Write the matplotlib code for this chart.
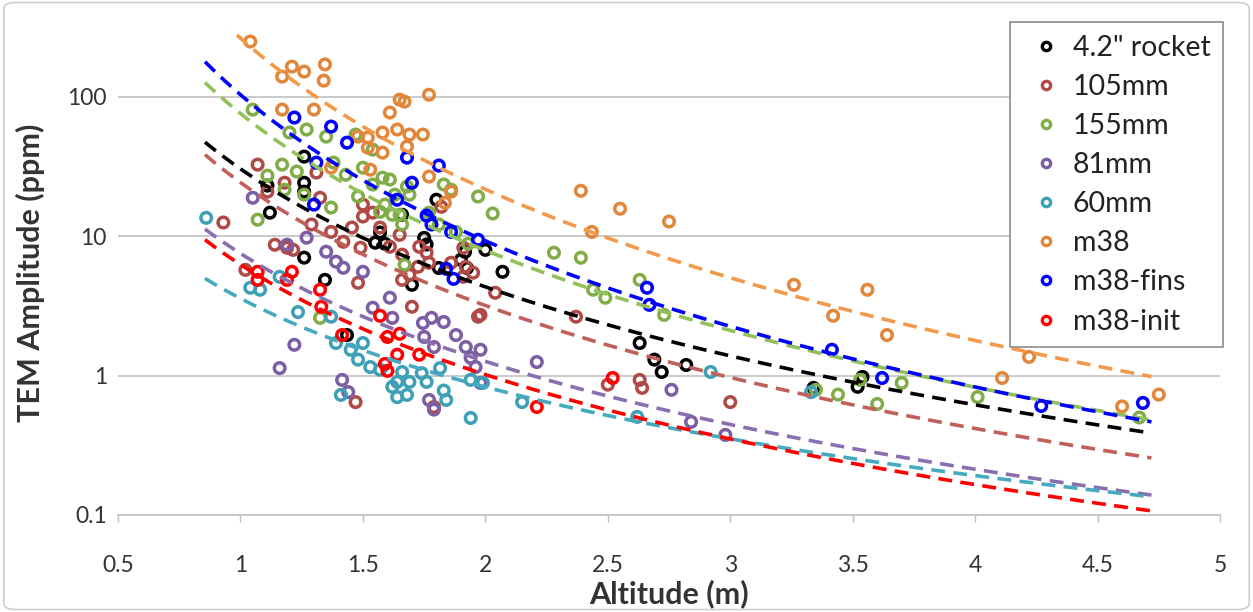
import matplotlib
matplotlib.use('Agg')
import matplotlib.pyplot as plt
import numpy as np
from matplotlib.patches import FancyBboxPatch
from matplotlib.lines import Line2D

plt.rcParams['font.family'] = ['Lato', 'DejaVu Sans']
plt.rcParams['lines.scale_dashes'] = False

# ---------------- data ----------------
series_names = ['4.2" rocket', '105mm', '155mm', '81mm', '60mm', 'm38', 'm38-fins', 'm38-init']
marker_colors = ['#000000', '#b04a46', '#80ad48', '#7b5ea3', '#3da0b6', '#e2863a', '#0000ff', '#ff0000']
line_colors = ['#000000', '#c0605b', '#92c05a', '#8a6fb0', '#45aac0', '#f39a4a', '#0000ff', '#ff0000']

rocket_x = [1.11, 1.12, 1.26, 1.26, 1.26, 1.26, 1.345, 1.435, 1.57, 1.55, 1.59, 1.66, 1.75, 1.76, 1.70, 1.80,
            1.90, 1.925, 1.81, 2.0, 1.917, 2.07, 2.63, 2.69, 2.72, 2.82, 3.34, 3.52, 3.54]
rocket_y = [23.0, 14.7, 24.1, 20.8, 37.1, 7.0, 4.85, 1.95, 10.6, 8.96, 8.8, 14.2, 9.7, 8.7, 4.47, 18.2,
            6.75, 5.9, 5.9, 7.96, 7.7, 5.54, 1.71, 1.30, 1.06, 1.19, 0.815, 0.83, 0.977]

mm105_x = [0.93, 1.07, 1.02, 1.11, 1.18, 1.14, 1.19, 1.215, 1.29, 1.325, 1.31, 1.37, 1.42, 1.455, 1.49, 1.50,
           1.54, 1.50, 1.57, 1.61, 1.65, 1.66, 1.66, 1.73, 1.76, 1.725, 1.77, 1.69, 1.86, 1.91, 1.95, 1.48,
           1.70, 1.97, 1.82, 1.92, 2.04, 1.98, 2.37, 2.50, 2.63, 2.64, 3.0, 1.47, 1.79, 1.91]
mm105_y = [12.5, 32.5, 5.72, 20.8, 24.1, 8.66, 8.24, 7.96, 12.1, 18.8, 28.5, 10.7, 9.1, 11.5, 8.24, 13.8,
           14.7, 16.8, 11.5, 8.38, 10.2, 7.35, 4.85, 8.38, 7.59, 6.02, 6.43, 5.27, 6.43, 5.10, 5.46, 4.62,
           3.11, 2.64, 16.2, 6.02, 3.92, 2.72, 2.64, 0.86, 0.93, 0.815, 0.645, 0.645, 0.595, 8.24]

mm155_x = [1.05, 1.07, 1.11, 1.17, 1.20, 1.23, 1.27, 1.26, 1.18, 1.35, 1.325, 1.37, 1.38, 1.43, 1.47, 1.48,
           1.50, 1.54, 1.54, 1.58, 1.61, 1.59, 1.62, 1.68, 1.65, 1.66, 1.69, 1.63, 1.57, 1.67, 1.77, 1.81,
           1.83, 1.86, 1.97, 1.93, 1.88, 2.03, 2.28, 2.39, 2.44, 2.49, 2.63, 2.73, 3.35, 3.44, 3.53, 3.60,
           3.70, 4.01, 4.67]
mm155_y = [80.6, 13.1, 27.1, 32.5, 55.2, 29.0, 58.0, 19.8, 21.5, 51.6, 2.59, 16.0, 33.6, 27.5, 53.4, 19.2,
           30.9, 41.6, 23.4, 26.2, 25.4, 16.8, 14.2, 22.6, 14.2, 12.1, 19.8, 19.8, 14.9, 6.22, 14.7, 12.1,
           23.4, 21.5, 19.2, 8.8, 10.7, 14.5, 7.59, 6.99, 4.12, 3.61, 4.85, 2.72, 0.79, 0.73, 0.93, 0.625,
           0.885, 0.70, 0.50]

mm81_x = [1.05, 1.16, 1.22, 1.19, 1.27, 1.35, 1.39, 1.42, 1.50, 1.61, 1.54, 1.62, 1.745, 1.78, 1.83, 1.75,
          1.79, 1.88, 1.92, 1.94, 1.98, 1.96, 1.98, 1.415, 1.44, 1.77, 1.79, 2.21, 2.76, 2.84, 2.98]
mm81_y = [18.8, 1.13, 1.66, 8.66, 9.73, 7.72, 6.55, 5.92, 5.54, 3.61, 3.06, 2.59, 2.38, 2.59, 2.42, 1.89,
          1.60, 1.95, 1.60, 1.34, 1.53, 1.15, 0.885, 0.93, 0.76, 0.668, 0.57, 1.25, 0.79, 0.465, 0.375]

mm60_x = [0.86, 1.04, 1.08, 1.16, 1.235, 1.37, 1.39, 1.45, 1.48, 1.50, 1.53, 1.57, 1.62, 1.66, 1.64, 1.69,
          1.74, 1.76, 1.815, 1.83, 1.84, 1.64, 1.68, 1.41, 1.94, 1.94, 1.99, 2.15, 2.62, 2.92, 3.33]
mm60_y = [13.5, 4.26, 4.12, 5.10, 2.85, 2.64, 1.71, 1.53, 1.30, 1.71, 1.15, 1.10, 0.83, 1.06, 0.90, 0.90,
          1.04, 0.90, 1.13, 0.78, 0.668, 0.70, 0.726, 0.726, 0.93, 0.496, 0.885, 0.645, 0.505, 1.06, 0.76]

m38_x = [1.04, 1.17, 1.21, 1.26, 1.345, 1.34, 1.17, 1.30, 1.37, 1.48, 1.52, 1.52, 1.53, 1.58, 1.58, 1.61,
         1.64, 1.65, 1.67, 1.69, 1.745, 1.77, 1.68, 1.77, 1.86, 1.835, 2.39, 2.435, 2.55, 2.75, 3.26, 3.56,
         3.42, 3.64, 4.22, 4.11, 4.60, 4.75]
m38_y = [248, 139, 164, 151, 170, 130, 80.6, 80.6, 30.9, 51.6, 50.8, 43.0, 29.9, 55.2, 39.6, 76.8,
         58.0, 95, 92, 53.4, 53.4, 103, 43.8, 26.7, 20.8, 17.3, 21.1, 10.7, 15.7, 12.7, 4.47, 4.12,
         2.68, 1.95, 1.36, 0.96, 0.60, 0.73]

fins_x = [1.22, 1.37, 1.435, 1.31, 1.68, 1.81, 1.70, 1.64, 1.30, 1.76, 1.78, 1.86, 1.97, 1.84, 1.87, 2.66,
          2.67, 3.415, 3.62, 4.27, 4.685]
fins_y = [70.7, 60.9, 46.7, 33.6, 36.5, 32.0, 24.1, 18.2, 16.8, 14.0, 12.1, 10.7, 9.4, 5.82, 4.93, 4.26,
          3.21, 1.53, 0.96, 0.605, 0.636]

init_x = [1.07, 1.07, 1.21, 1.19, 1.325, 1.33, 1.415, 1.57, 1.60, 1.65, 1.64, 1.59, 1.60, 1.73, 2.21, 2.52]
init_y = [5.54, 4.85, 5.54, 4.85, 4.12, 3.11, 1.95, 2.68, 1.89, 1.99, 1.41, 1.21, 1.08, 1.41, 0.595, 0.96]

# power-law trendlines  y = a * x**b
fit_a = [30.3, 24.2, 75.6, 7.5, 3.57, 262, 103, 6.24]
fit_b = [-2.81, -2.93, -3.26, -2.57, -2.11, -3.6, -3.48, -2.62]
fit_x_range = (0.855, 4.72)

x_ticks = [0.5, 1, 1.5, 2, 2.5, 3, 3.5, 4, 4.5, 5]
x_tick_labels = ['0.5', '1', '1.5', '2', '2.5', '3', '3.5', '4', '4.5', '5']
y_ticks = [0.1, 1, 10, 100]
y_tick_labels = ['0.1', '1', '10', '100']

xs = [rocket_x, mm105_x, mm155_x, mm81_x, mm60_x, m38_x, fins_x, init_x]
ys = [rocket_y, mm105_y, mm155_y, mm81_y, mm60_y, m38_y, fins_y, init_y]

# ---------------- figure ----------------
fig = plt.figure(figsize=(12.53, 6.12), dpi=100)
fig.patch.set_facecolor('white')
border = FancyBboxPatch((0.003, 0.004), 0.994, 0.992, boxstyle='round,pad=0,rounding_size=0.01',
                        transform=fig.transFigure, facecolor='none', edgecolor='#cfcfcf', lw=1.2)
fig.patches.append(border)

ax = fig.add_axes([0.0942, 0.1585, 0.8795, 0.7925])
ax.set_yscale('log')
ax.set_xlim(0.5, 5)
ax.set_ylim(0.1, 300)

for i in range(len(series_names)):
    ax.scatter(xs[i], ys[i], s=58, facecolors='none', edgecolors=marker_colors[i],
               linewidths=2.5, zorder=3 + i * 0.01)

xx = np.linspace(fit_x_range[0], fit_x_range[1], 200)
for i in range(len(series_names)):
    ax.plot(xx, fit_a[i] * xx ** fit_b[i], color=line_colors[i], lw=2.6,
            linestyle=(0, (10, 6)), zorder=4 + i * 0.01)

ax.set_xticks(x_ticks)
ax.set_xticklabels(x_tick_labels)
ax.set_yticks(y_ticks)
ax.set_yticklabels(y_tick_labels)
ax.yaxis.set_minor_locator(matplotlib.ticker.NullLocator())
ax.tick_params(axis='both', labelsize=16.5, colors='#404040', labelcolor='#333333')
ax.tick_params(axis='y', length=0, pad=8)
ax.tick_params(axis='x', length=5, width=1, color='#bfbfbf', pad=24)

ax.grid(axis='y', which='major', color='#c6c6c6', lw=1.3)
ax.set_axisbelow(True)
for s in ['top', 'right', 'left']:
    ax.spines[s].set_visible(False)
ax.spines['bottom'].set_color('#c6c6c6')
ax.spines['bottom'].set_linewidth(1.3)

ax.set_xlabel('Altitude (m)', fontsize=22, fontweight='bold', color='#333333', labelpad=2)
ax.set_ylabel('TEM Amplitude (ppm)', fontsize=22, fontweight='bold', color='#333333', labelpad=16)

handles = [Line2D([], [], marker='o', linestyle='none', markersize=6, markerfacecolor='none',
                  markeredgecolor=c, markeredgewidth=2.4) for c in marker_colors]
leg = fig.legend(handles, series_names, loc='upper left', bbox_to_anchor=(0.806, 0.964),
                 fontsize=20.5, frameon=True, fancybox=False, edgecolor='#8c8c8c', framealpha=1,
                 labelspacing=0.46, handletextpad=0.15, handlelength=1.6, borderpad=0.45,
                 borderaxespad=0)
leg.get_frame().set_linewidth(1.2)
for t in leg.get_texts():
    t.set_color('#222222')

fig.savefig('out.png', dpi=100)
